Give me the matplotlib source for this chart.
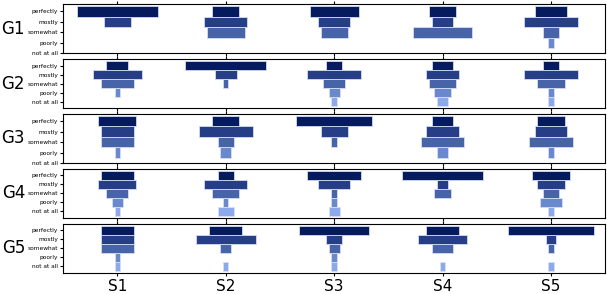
import numpy as np
import matplotlib
matplotlib.use("Agg")
import matplotlib.pyplot as plt

groups = ["G1", "G2", "G3", "G4", "G5"]
subjects = ["S1", "S2", "S3", "S4", "S5"]
levels = ["perfectly", "mostly", "somewhat", "poorly", "not at all"]
colors = ["#061a5e", "#253e85", "#4864a8", "#6a89cc", "#8caaeb"]

# counts per group -> per subject -> per level (20 answers each)
G1 = [[15, 5, 0, 0, 0], [5, 8, 7, 0, 0], [9, 6, 5, 0, 0], [5, 4, 11, 0, 0], [6, 10, 3, 1, 0]]
G2 = [[4, 9, 6, 1, 0], [15, 4, 1, 0, 0], [3, 10, 4, 2, 1], [4, 6, 5, 3, 2], [3, 10, 5, 1, 1]]
G3 = [[7, 6, 6, 1, 0], [5, 10, 3, 2, 0], [14, 5, 1, 0, 0], [4, 6, 8, 2, 0], [5, 6, 8, 1, 0]]
G4 = [[6, 7, 4, 2, 1], [3, 8, 5, 1, 3], [10, 6, 1, 1, 2], [15, 2, 3, 0, 0], [7, 5, 3, 4, 1]]
G5 = [[6, 6, 6, 1, 1], [6, 11, 2, 0, 1], [13, 3, 2, 1, 1], [6, 9, 4, 0, 1], [16, 2, 1, 0, 1]]
data = [G1, G2, G3, G4, G5]

col_w = 20
fig, axes = plt.subplots(5, 1, figsize=(6.07, 2.94), dpi=100)
fig.subplots_adjust(left=0.104, right=0.997, top=0.986, bottom=0.072, hspace=0.114)

for g, ax in enumerate(axes):
    counts = np.array(data[g])
    for s in range(len(subjects)):
        center = col_w * s + col_w / 2
        for k in range(len(levels)):
            w = counts[s, k]
            if w == 0:
                continue
            ax.barh(k, w, height=1.0, left=center - w / 2, color=colors[k],
                    edgecolor=(0.85, 0.88, 0.96, 0.8), linewidth=0.7)
    ax.set_xlim(0, col_w * len(subjects))
    ax.set_yticks(range(len(levels)))
    ax.set_yticklabels(levels, fontsize=4.2)
    ax.invert_yaxis()
    ax.set_xticks([col_w * s + col_w / 2 for s in range(len(subjects))])
    ax.tick_params(axis="x", top=True, bottom=True, length=2.5, labelbottom=False)
    ax.tick_params(axis="y", length=2, pad=1.5)
    pos = ax.get_position()
    fig.text(0.022, (pos.y0 + pos.y1) / 2, groups[g], fontsize=12, ha="center", va="center")

axes[-1].tick_params(axis="x", labelbottom=True, labelsize=11, pad=2)
axes[-1].set_xticklabels(subjects)

fig.savefig("out.png", dpi=100)
